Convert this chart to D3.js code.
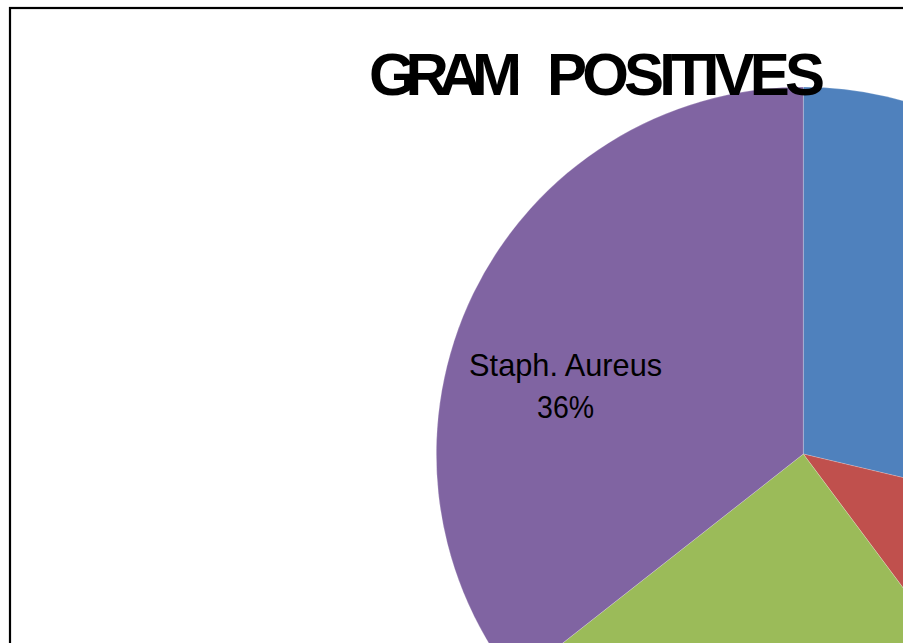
<!DOCTYPE html>
<html>
<head>
<meta charset="utf-8">
<script src="https://cdn.jsdelivr.net/npm/d3@7"></script>
<style>
  html, body { margin: 0; padding: 0; background: #fff; overflow: hidden; }
  svg { display: block; }
</style>
</head>
<body>
<div id="chart"></div>
<script>
// ── Data ─────────────────────────────────────────────────────────────────
const categories = ['Slice A', 'Slice B', 'Slice C', 'Staph. Aureus'];
const values     = [28.7, 11.1, 24.6, 35.6];
const labels     = [null, null, null, ['Staph. Aureus', '36%']];
const colors     = ['#4F81BD', '#C0504D', '#9BBB59', '#8064A2'];
const titleWords = ['GRAM', 'POSITIVES'];

// ── Layout ───────────────────────────────────────────────────────────────
const W = 903, H = 643;
const CX = 803.3, CY = 454, R = 367;

const svg = d3.select('#chart').append('svg')
  .attr('width', W).attr('height', H);

// chart frame (extends past the right/bottom edges)
svg.append('rect')
  .attr('x', 10).attr('y', 8)
  .attr('width', 1200).attr('height', 1000)
  .attr('fill', '#fff').attr('stroke', '#000').attr('stroke-width', 2.2);

const pie = d3.pie().sort(null).value(d => d)(values);
const arc = d3.arc().innerRadius(0).outerRadius(R);

const g = svg.append('g').attr('transform', `translate(${CX},${CY})`);

g.selectAll('path.slice')
  .data(pie)
  .join('path')
  .attr('class', 'slice')
  .attr('d', arc)
  .attr('fill', (d, i) => colors[i])
  .attr('stroke', 'rgba(255,255,255,0.35)')
  .attr('stroke-width', 0.6);

// data labels
const labelArc = d3.arc().innerRadius(R * 0.67).outerRadius(R * 0.67);
pie.forEach((d, i) => {
  if (!labels[i]) return;
  // Excel nudges the label a bit towards the horizontal
  const shifted = { startAngle: d.startAngle - 0.21, endAngle: d.endAngle - 0.21 };
  const [lx, ly] = labelArc.centroid(shifted);
  labels[i].forEach((line, j) => {
    g.append('text')
      .attr('x', lx + 1).attr('y', ly + (j - 0.5) * 42 + 2.5)
      .attr('text-anchor', 'middle')
      .attr('font-family', '"Liberation Sans", Arial, sans-serif')
      .attr('font-size', 31.5)
      .attr('textLength', j === 0 ? 193 : 57)
      .attr('lengthAdjust', 'spacingAndGlyphs')
      .attr('fill', '#000')
      .text(line);
  });
});

// title (tight, overlapping letters like the original), one text per word
const wordPos = [{ x: 369, len: 153 }, { x: 547, len: 278 }];
titleWords.forEach((w, i) => {
  svg.append('text')
    .attr('x', wordPos[i].x).attr('y', 95)
    .attr('font-family', '"Liberation Sans", Arial, sans-serif')
    .attr('font-weight', 700)
    .attr('font-size', 60)
    .attr('textLength', wordPos[i].len)
    .attr('lengthAdjust', 'spacing')
    .attr('fill', '#000')
    .text(w);
});
</script>
</body>
</html>
